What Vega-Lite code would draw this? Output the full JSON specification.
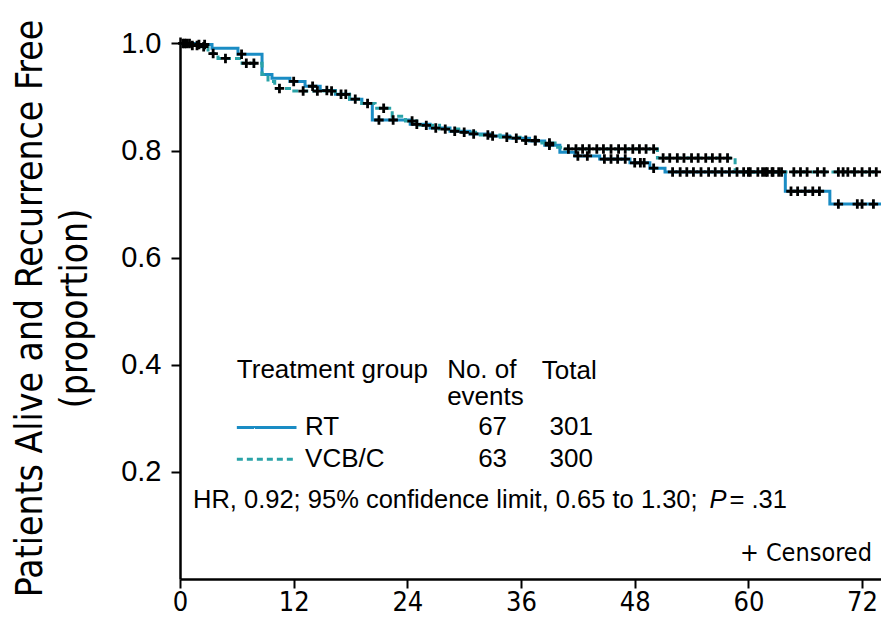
{
  "$schema": "https://vega.github.io/schema/vega-lite/v6.json",
  "width": 701,
  "height": 542,
  "autosize": "none",
  "padding": {"left": 180, "top": 37, "right": 0, "bottom": 50},
  "background": "white",
  "config": {
    "view": {"stroke": null},
    "axis": {"grid": false, "domainColor": "black", "domainWidth": 2.5, "tickColor": "black", "tickWidth": 2, "labelColor": "black", "titleColor": "black"}
  },
  "datasets": {
    "km": [
      {"g":"RT","t":0,"s":1.0},{"g":"RT","t":1.58,"s":0.998},{"g":"RT","t":3.38,"s":0.991},{"g":"RT","t":6.12,"s":0.98},{"g":"RT","t":8.66,"s":0.942},{"g":"RT","t":9.71,"s":0.935},{"g":"RT","t":11.6,"s":0.929},{"g":"RT","t":13.2,"s":0.92},{"g":"RT","t":14.8,"s":0.912},{"g":"RT","t":16.4,"s":0.905},{"g":"RT","t":17.9,"s":0.896},{"g":"RT","t":19.2,"s":0.888},{"g":"RT","t":20.3,"s":0.857},{"g":"RT","t":24.3,"s":0.849},{"g":"RT","t":26.4,"s":0.842},{"g":"RT","t":28.5,"s":0.836},{"g":"RT","t":30.6,"s":0.831},{"g":"RT","t":32.7,"s":0.827},{"g":"RT","t":34.8,"s":0.823},{"g":"RT","t":36.9,"s":0.818},{"g":"RT","t":38.5,"s":0.81},{"g":"RT","t":40.1,"s":0.797},{"g":"RT","t":41.7,"s":0.79},{"g":"RT","t":44.3,"s":0.784},{"g":"RT","t":47.5,"s":0.777},{"g":"RT","t":49.6,"s":0.767},{"g":"RT","t":51.2,"s":0.76},{"g":"RT","t":63.9,"s":0.724},{"g":"RT","t":68.6,"s":0.7},{"g":"RT","t":74,"s":0.7},
      {"g":"VCB/C","t":0,"s":1.0},{"g":"VCB/C","t":0.95,"s":0.996},{"g":"VCB/C","t":2.11,"s":0.994},{"g":"VCB/C","t":2.96,"s":0.981},{"g":"VCB/C","t":4.01,"s":0.972},{"g":"VCB/C","t":6.55,"s":0.963},{"g":"VCB/C","t":8.66,"s":0.942},{"g":"VCB/C","t":9.29,"s":0.929},{"g":"VCB/C","t":10.0,"s":0.916},{"g":"VCB/C","t":11.8,"s":0.911},{"g":"VCB/C","t":16.4,"s":0.905},{"g":"VCB/C","t":17.9,"s":0.896},{"g":"VCB/C","t":19.2,"s":0.888},{"g":"VCB/C","t":20.6,"s":0.879},{"g":"VCB/C","t":22.4,"s":0.864},{"g":"VCB/C","t":23.8,"s":0.855},{"g":"VCB/C","t":25.3,"s":0.847},{"g":"VCB/C","t":27.4,"s":0.84},{"g":"VCB/C","t":29.6,"s":0.834},{"g":"VCB/C","t":31.7,"s":0.829},{"g":"VCB/C","t":33.8,"s":0.825},{"g":"VCB/C","t":35.9,"s":0.819},{"g":"VCB/C","t":38.0,"s":0.814},{"g":"VCB/C","t":39.6,"s":0.806},{"g":"VCB/C","t":40.6,"s":0.803},{"g":"VCB/C","t":50.4,"s":0.786},{"g":"VCB/C","t":58.6,"s":0.76},{"g":"VCB/C","t":74,"s":0.76}
    ],
    "censor": [
      {"g":"RT","t":0.5,"s":1.0},{"g":"RT","t":1.0,"s":1.0},{"g":"RT","t":2.0,"s":0.998},{"g":"RT","t":2.6,"s":0.998},{"g":"RT","t":6.5,"s":0.98},{"g":"RT","t":12.0,"s":0.929},{"g":"RT","t":14.0,"s":0.92},{"g":"RT","t":15.5,"s":0.912},{"g":"RT","t":17.0,"s":0.905},{"g":"RT","t":18.5,"s":0.896},{"g":"RT","t":21.0,"s":0.857},{"g":"RT","t":22.5,"s":0.857},{"g":"RT","t":25.0,"s":0.849},{"g":"RT","t":27.0,"s":0.842},{"g":"RT","t":29.0,"s":0.836},{"g":"RT","t":31.0,"s":0.831},{"g":"RT","t":33.0,"s":0.827},{"g":"RT","t":35.5,"s":0.823},{"g":"RT","t":37.5,"s":0.818},{"g":"RT","t":39.0,"s":0.81},{"g":"RT","t":42.0,"s":0.79},{"g":"RT","t":43.0,"s":0.79},{"g":"RT","t":44.8,"s":0.784},{"g":"RT","t":45.5,"s":0.784},{"g":"RT","t":46.2,"s":0.784},{"g":"RT","t":47.0,"s":0.784},{"g":"RT","t":48.0,"s":0.777},{"g":"RT","t":48.6,"s":0.777},{"g":"RT","t":49.0,"s":0.777},{"g":"RT","t":50.0,"s":0.767},{"g":"RT","t":52.0,"s":0.76},{"g":"RT","t":52.8,"s":0.76},{"g":"RT","t":53.5,"s":0.76},{"g":"RT","t":54.2,"s":0.76},{"g":"RT","t":55.0,"s":0.76},{"g":"RT","t":55.8,"s":0.76},{"g":"RT","t":56.5,"s":0.76},{"g":"RT","t":57.2,"s":0.76},{"g":"RT","t":58.0,"s":0.76},{"g":"RT","t":58.8,"s":0.76},{"g":"RT","t":59.5,"s":0.76},{"g":"RT","t":60.2,"s":0.76},{"g":"RT","t":61.0,"s":0.76},{"g":"RT","t":61.8,"s":0.76},{"g":"RT","t":62.5,"s":0.76},{"g":"RT","t":63.2,"s":0.76},{"g":"RT","t":64.5,"s":0.724},{"g":"RT","t":65.2,"s":0.724},{"g":"RT","t":66.0,"s":0.724},{"g":"RT","t":66.8,"s":0.724},{"g":"RT","t":67.5,"s":0.724},{"g":"RT","t":69.5,"s":0.7},{"g":"RT","t":71.5,"s":0.7},{"g":"RT","t":72.0,"s":0.7},{"g":"RT","t":73.2,"s":0.7},
      {"g":"VCB/C","t":0.3,"s":1.0},{"g":"VCB/C","t":0.7,"s":1.0},{"g":"VCB/C","t":1.3,"s":0.996},{"g":"VCB/C","t":1.8,"s":0.996},{"g":"VCB/C","t":2.5,"s":0.994},{"g":"VCB/C","t":3.5,"s":0.981},{"g":"VCB/C","t":4.8,"s":0.972},{"g":"VCB/C","t":7.0,"s":0.963},{"g":"VCB/C","t":7.8,"s":0.963},{"g":"VCB/C","t":10.5,"s":0.916},{"g":"VCB/C","t":13.0,"s":0.911},{"g":"VCB/C","t":14.5,"s":0.911},{"g":"VCB/C","t":16.0,"s":0.911},{"g":"VCB/C","t":17.5,"s":0.905},{"g":"VCB/C","t":19.8,"s":0.888},{"g":"VCB/C","t":21.5,"s":0.879},{"g":"VCB/C","t":24.5,"s":0.855},{"g":"VCB/C","t":26.0,"s":0.847},{"g":"VCB/C","t":28.0,"s":0.84},{"g":"VCB/C","t":30.0,"s":0.834},{"g":"VCB/C","t":32.5,"s":0.829},{"g":"VCB/C","t":34.5,"s":0.825},{"g":"VCB/C","t":36.5,"s":0.819},{"g":"VCB/C","t":37.5,"s":0.819},{"g":"VCB/C","t":39.0,"s":0.814},{"g":"VCB/C","t":41.0,"s":0.803},{"g":"VCB/C","t":41.8,"s":0.803},{"g":"VCB/C","t":42.5,"s":0.803},{"g":"VCB/C","t":43.2,"s":0.803},{"g":"VCB/C","t":44.0,"s":0.803},{"g":"VCB/C","t":44.7,"s":0.803},{"g":"VCB/C","t":45.5,"s":0.803},{"g":"VCB/C","t":46.3,"s":0.803},{"g":"VCB/C","t":47.0,"s":0.803},{"g":"VCB/C","t":47.8,"s":0.803},{"g":"VCB/C","t":48.5,"s":0.803},{"g":"VCB/C","t":49.2,"s":0.803},{"g":"VCB/C","t":50.0,"s":0.803},{"g":"VCB/C","t":51.0,"s":0.786},{"g":"VCB/C","t":51.7,"s":0.786},{"g":"VCB/C","t":52.5,"s":0.786},{"g":"VCB/C","t":53.2,"s":0.786},{"g":"VCB/C","t":54.0,"s":0.786},{"g":"VCB/C","t":54.7,"s":0.786},{"g":"VCB/C","t":55.5,"s":0.786},{"g":"VCB/C","t":56.2,"s":0.786},{"g":"VCB/C","t":57.0,"s":0.786},{"g":"VCB/C","t":57.8,"s":0.786},{"g":"VCB/C","t":60.0,"s":0.76},{"g":"VCB/C","t":61.5,"s":0.76},{"g":"VCB/C","t":62.0,"s":0.76},{"g":"VCB/C","t":62.6,"s":0.76},{"g":"VCB/C","t":63.5,"s":0.76},{"g":"VCB/C","t":64.8,"s":0.76},{"g":"VCB/C","t":65.5,"s":0.76},{"g":"VCB/C","t":66.2,"s":0.76},{"g":"VCB/C","t":67.3,"s":0.76},{"g":"VCB/C","t":68.0,"s":0.76},{"g":"VCB/C","t":69.5,"s":0.76},{"g":"VCB/C","t":70.0,"s":0.76},{"g":"VCB/C","t":70.5,"s":0.76},{"g":"VCB/C","t":71.2,"s":0.76},{"g":"VCB/C","t":72.0,"s":0.76},{"g":"VCB/C","t":72.8,"s":0.76},{"g":"VCB/C","t":73.5,"s":0.76}
    ],
    "keylines": [
      {"g":"RT","t":6.0,"t2":12.3,"p":0.283},
      {"g":"VCB/C","t":6.0,"t2":12.3,"p":0.2235}
    ],
    "notes": [
      {"label":"Treatment group","t":6.0,"p":0.391,"kind":"left"},
      {"label":"No. of","t":28.2,"p":0.391,"kind":"left"},
      {"label":"events","t":28.2,"p":0.339,"kind":"left"},
      {"label":"Total","t":38.2,"p":0.388,"kind":"left"},
      {"label":"RT","t":13.2,"p":0.283,"kind":"left"},
      {"label":"VCB/C","t":13.2,"p":0.2235,"kind":"left"},
      {"label":"67","t":33.0,"p":0.283,"kind":"center"},
      {"label":"301","t":41.3,"p":0.283,"kind":"center"},
      {"label":"63","t":33.0,"p":0.2235,"kind":"center"},
      {"label":"300","t":41.3,"p":0.2235,"kind":"center"},
      {"label":"HR, 0.92; 95% confidence limit, 0.65 to 1.30;","t":1.37,"p":0.147,"kind":"hr"},
      {"label":"P","t":55.9,"p":0.147,"kind":"italic"},
      {"label":"= .31","t":58.0,"p":0.147,"kind":"hr"},
      {"label":"+ Censored","t":73.05,"p":0.048,"kind":"right"}
    ]
  },
  "layer": [
    {
      "data": {"name": "km"},
      "mark": {"type": "line", "interpolate": "step-after", "strokeWidth": 3, "clip": true},
      "encoding": {
        "x": {"field": "t", "type": "quantitative", "scale": {"domain": [0, 74], "nice": false, "zero": false},
          "axis": {"values": [0,12,24,36,48,60,72], "title": null, "labelFont": "DejaVu Sans Condensed, sans-serif", "labelFontSize": 27, "tickSize": 9, "labelPadding": 1, "labelFlush": false, "labelOverlap": false}},
        "y": {"field": "s", "type": "quantitative", "scale": {"domain": [0, 1.012], "nice": false},
          "axis": {"values": [0.2,0.4,0.6,0.8,1.0], "format": ".1f", "labelFont": "Liberation Sans, Arial, sans-serif", "labelFontSize": 29, "tickSize": 9, "labelPadding": 10,
            "title": ["Patients Alive and Recurrence Free", "(proportion)"], "titleFont": "DejaVu Sans Condensed, sans-serif", "titleFontSize": 37, "titleFontWeight": "normal", "titleLineHeight": 45, "titlePadding": 26}},
        "color": {"field": "g", "type": "nominal", "scale": {"domain": ["RT","VCB/C"], "range": ["#1a8cc4","#2aa3a8"]}, "legend": null},
        "strokeDash": {"field": "g", "type": "nominal", "scale": {"domain": ["RT","VCB/C"], "range": [[1,0],[6,4]]}, "legend": null}
      }
    },
    {
      "data": {"name": "censor"},
      "mark": {"type": "point", "shape": "M-1,0L1,0M0,-1L0,1", "filled": false, "stroke": "black", "strokeWidth": 2.8, "size": 90, "opacity": 1},
      "encoding": {
        "x": {"field": "t", "type": "quantitative"},
        "y": {"field": "s", "type": "quantitative"}
      }
    },
    {
      "data": {"name": "keylines"},
      "mark": {"type": "rule", "strokeWidth": 3},
      "encoding": {
        "x": {"field": "t", "type": "quantitative"},
        "x2": {"field": "t2"},
        "y": {"field": "p", "type": "quantitative"},
        "color": {"field": "g", "type": "nominal", "legend": null},
        "strokeDash": {"field": "g", "type": "nominal", "legend": null}
      }
    },
    {
      "data": {"name": "notes"},
      "transform": [{"filter": "datum.kind == 'left'"}],
      "mark": {"type": "text", "align": "left", "baseline": "middle", "font": "Liberation Sans, Arial, sans-serif", "fontSize": 26, "color": "black"},
      "encoding": {"x": {"field": "t", "type": "quantitative"}, "y": {"field": "p", "type": "quantitative"}, "text": {"field": "label"}}
    },
    {
      "data": {"name": "notes"},
      "transform": [{"filter": "datum.kind == 'center'"}],
      "mark": {"type": "text", "align": "center", "baseline": "middle", "font": "Liberation Sans, Arial, sans-serif", "fontSize": 26, "color": "black"},
      "encoding": {"x": {"field": "t", "type": "quantitative"}, "y": {"field": "p", "type": "quantitative"}, "text": {"field": "label"}}
    },
    {
      "data": {"name": "notes"},
      "transform": [{"filter": "datum.kind == 'hr'"}],
      "mark": {"type": "text", "align": "left", "baseline": "middle", "font": "Liberation Sans, Arial, sans-serif", "fontSize": 25.5, "color": "black"},
      "encoding": {"x": {"field": "t", "type": "quantitative"}, "y": {"field": "p", "type": "quantitative"}, "text": {"field": "label"}}
    },
    {
      "data": {"name": "notes"},
      "transform": [{"filter": "datum.kind == 'italic'"}],
      "mark": {"type": "text", "align": "left", "baseline": "middle", "font": "Liberation Sans, Arial, sans-serif", "fontSize": 25.5, "fontStyle": "italic", "color": "black"},
      "encoding": {"x": {"field": "t", "type": "quantitative"}, "y": {"field": "p", "type": "quantitative"}, "text": {"field": "label"}}
    },
    {
      "data": {"name": "notes"},
      "transform": [{"filter": "datum.kind == 'right'"}],
      "mark": {"type": "text", "align": "right", "baseline": "middle", "font": "DejaVu Sans Condensed, sans-serif", "fontSize": 25, "color": "black"},
      "encoding": {"x": {"field": "t", "type": "quantitative"}, "y": {"field": "p", "type": "quantitative"}, "text": {"field": "label"}}
    }
  ]
}
